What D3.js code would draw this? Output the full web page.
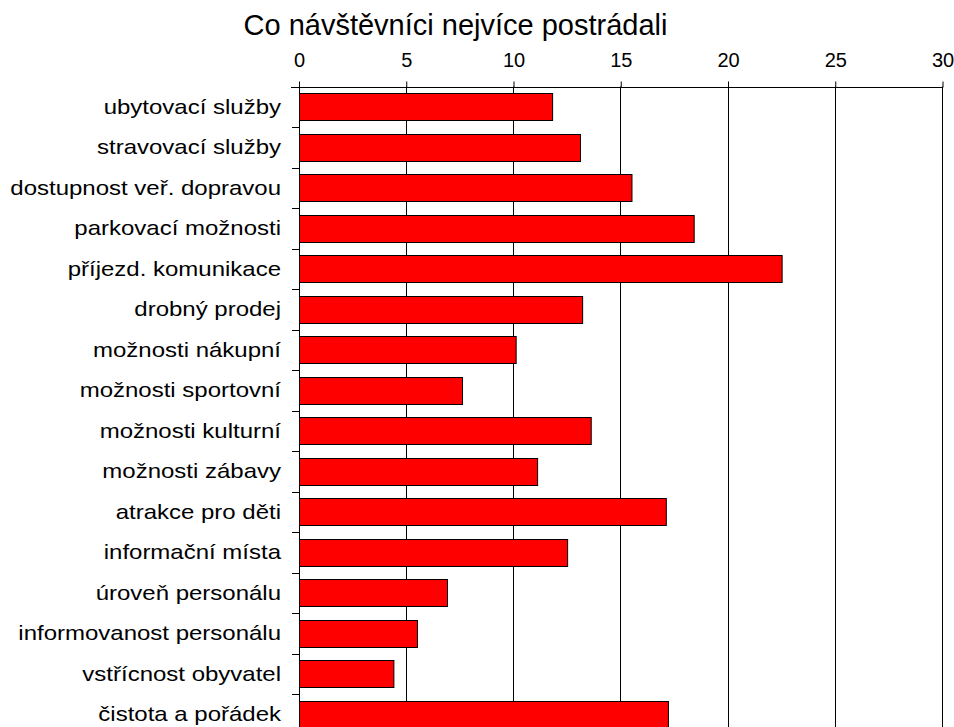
<!DOCTYPE html>
<html>
<head>
<meta charset="utf-8">
<script src="https://cdn.jsdelivr.net/npm/d3@7"></script>
<style>
  html, body { margin: 0; padding: 0; background: #fff; overflow: hidden; }
  svg { display: block; font-family: "Liberation Sans", Arial, sans-serif; }
</style>
</head>
<body>
<svg id="chart" width="954" height="727"></svg>
<script>
// Categories (top to bottom) and their counts
const categories = [
  "ubytovací služby",
  "stravovací služby",
  "dostupnost veř. dopravou",
  "parkovací možnosti",
  "příjezd. komunikace",
  "drobný prodej",
  "možnosti nákupní",
  "možnosti sportovní",
  "možnosti kulturní",
  "možnosti zábavy",
  "atrakce pro děti",
  "informační místa",
  "úroveň personálu",
  "informovanost personálu",
  "vstřícnost obyvatel",
  "čistota a pořádek"
];
const values = [11.8, 13.1, 15.5, 18.4, 22.5, 13.2, 10.1, 7.6, 13.6, 11.1, 17.1, 12.5, 6.9, 5.5, 4.4, 17.2];
const tickValues = [0, 5, 10, 15, 20, 25, 30];
const title = "Co návštěvníci nejvíce postrádali";

const svg = d3.select("#chart");
const plotLeft = 298.5, plotRight = 942, plotTop = 86.5, band = 40.5;
const plotBottom = plotTop + band * categories.length;

const x = d3.scaleLinear().domain([0, 30]).range([plotLeft, plotRight]);
const y = d3.scaleBand().domain(categories).range([plotTop, plotBottom]).paddingInner(0.33).paddingOuter(0.165);

// Title
svg.append("text")
  .attr("x", 455.5).attr("y", 35)
  .attr("text-anchor", "middle")
  .attr("font-size", 29)
  .attr("fill", "#000")
  .text(title);

// Vertical gridlines
svg.append("g").selectAll("line")
  .data(tickValues.filter(d => d > 0))
  .join("line")
  .attr("x1", d => Math.round(x(d)) + 0.5).attr("x2", d => Math.round(x(d)) + 0.5)
  .attr("y1", plotTop).attr("y2", plotBottom)
  .attr("stroke", "#000").attr("stroke-width", 1);

// Bars
svg.append("g").selectAll("rect")
  .data(values)
  .join("rect")
  .attr("x", Math.round(x(0)) + 0.5)
  .attr("y", (d, i) => Math.round(y(categories[i])) + 0.5)
  .attr("width", d => x(d) - x(0))
  .attr("height", Math.round(y.bandwidth()))
  .attr("fill", "#ff0000")
  .attr("stroke", "#000")
  .attr("stroke-width", 1);

// Top value axis
const xAxis = d3.axisTop(x).tickValues(tickValues).tickSize(6).tickPadding(15).tickFormat(d3.format("d"));
const gx = svg.append("g")
  .attr("transform", `translate(0.5,${Math.round(plotTop) + 0.5})`)
  .call(xAxis);
gx.select(".domain").attr("d", `M${x(0) - 8},0H${x(30)}`).attr("stroke", "#000");
gx.selectAll(".tick line").attr("stroke", "#000");
gx.selectAll(".tick text")
  .attr("font-size", 20)
  .attr("font-family", "Liberation Sans, Arial, sans-serif")
  .attr("fill", "#000");

// Left category axis: ticks on band boundaries, labels on band centers
const boundaries = d3.range(categories.length + 1).map(i => plotTop + i * band);
const gy = svg.append("g");
gy.append("line")
  .attr("x1", Math.round(plotLeft) + 0.5).attr("x2", Math.round(plotLeft) + 0.5)
  .attr("y1", plotTop).attr("y2", plotBottom)
  .attr("stroke", "#000").attr("stroke-width", 1);
gy.selectAll("line.tk")
  .data(boundaries)
  .join("line")
  .attr("class", "tk")
  .attr("x1", Math.round(plotLeft) - 7).attr("x2", Math.round(plotLeft) + 0.5)
  .attr("y1", d => Math.round(d) + 0.5).attr("y2", d => Math.round(d) + 0.5)
  .attr("stroke", "#000");
// Labels are set in a slightly widened face
const labelScaleX = 1.2;
gy.selectAll("text")
  .data(categories)
  .join("text")
  .attr("transform", d => `translate(281,${y(d) + y.bandwidth() / 2}) scale(${labelScaleX},1)`)
  .attr("dy", "0.35em")
  .attr("text-anchor", "end")
  .attr("font-size", 20)
  .attr("fill", "#000")
  .text(d => d);
</script>
</body>
</html>
